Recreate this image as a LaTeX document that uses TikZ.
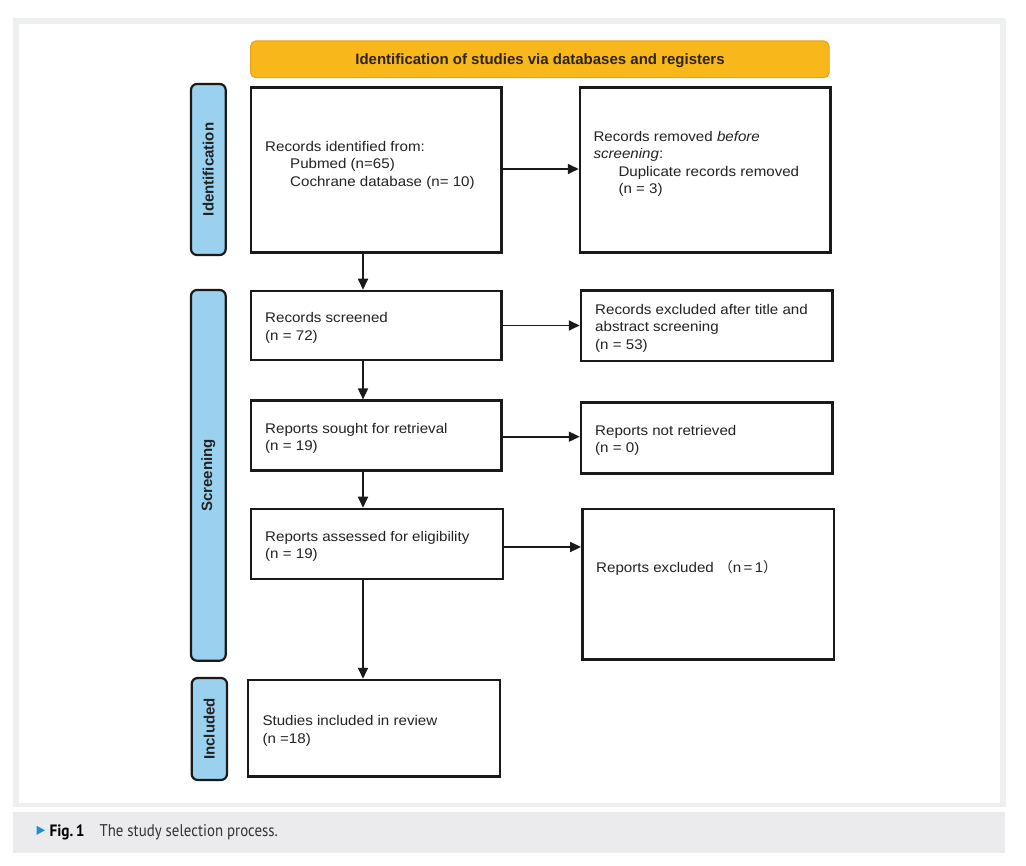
\documentclass[tikz,border=0pt]{standalone}
\usepackage{fontspec}
\setmainfont{Liberation Sans}
\newfontfamily\bodyf[FakeStretch=1.08]{Liberation Sans}
\newfontfamily\cjkf{Noto Sans CJK SC}
\newfontfamily\capf{PT Sans}
\usetikzlibrary{fit,arrows.meta,calc}
\definecolor{boxc}{HTML}{1A1A1A}
\definecolor{txtc}{HTML}{222222}
\definecolor{bluec}{HTML}{9AD1EF}
\definecolor{orangec}{HTML}{F8B71A}
\definecolor{orangeb}{HTML}{E5A21E}
\definecolor{hdrtxt}{HTML}{2D2416}
\definecolor{panelb}{HTML}{EEF0EF}
\definecolor{capband}{HTML}{EBEBED}
\definecolor{capblue}{HTML}{1E8FD2}
\definecolor{captxt}{HTML}{333333}
\newcommand{\fl}{\rule{0pt}{11.5pt}}
\newcommand{\ind}{\hspace*{25pt}}
\begin{document}
\begin{tikzpicture}[x=1pt,y=-1pt,
  flowbox/.style={draw=boxc, line width=2.5pt, inner sep=0pt},
  phase/.style={draw=boxc, line width=2.2pt, fill=bluec, rounded corners=6pt, inner sep=0pt},
  phasetext/.style={rotate=90, font=\fontsize{15}{18}\selectfont\bfseries, text=txtc, inner sep=0pt},
  boxtext/.style={anchor=north west, inner sep=0pt, align=left, text=txtc, font=\bodyf\fontsize{14}{17.5}\selectfont},
  arr/.style={draw=boxc, line width=1.7pt, -{Triangle[length=11pt,width=10pt]}},
]
\useasboundingbox (0,0) rectangle (1026,866);
\fill[white] (0,0) rectangle (1026,866);
% panel and caption band
\fill[panelb] (13.3,18) rectangle (1005.7,806.7);
\fill[white] (19.3,24) rectangle (1000,802.7);
\fill[capband] (13.3,811.7) rectangle (1005,852.7);

% header
\node[draw=orangeb, line width=1pt, fill=orangec, rounded corners=5pt, inner sep=0pt,
      fit={(250.7,41) (829,77.7)}] (H) {};
\node[anchor=base, inner sep=0pt, text=hdrtxt, font=\fontsize{15}{18}\selectfont\bfseries] (Htext) at (540,65)
  {Identification of studies via databases and registers};

% phase labels
\node[phase, fit={(191,84) (225.7,255)}] (L1) {};
\node[phasetext] (L1t) at (L1.center) {Identification};
\node[phase, fit={(191,290) (225.7,660.7)}] (L2) {};
\node[phasetext] (L2t) at (L2.center) {Screening};
\node[phase, fit={(191.7,678) (227,780)}] (L3) {};
\node[phasetext] (L3t) at (L3.center) {Included};

% boxes
\node[flowbox, fit={(251,87.3) (501.5,252.7)}] (B1) {};
\node[flowbox, fit={(580,87.3) (830.5,252.3)}] (R1) {};
\node[flowbox, fit={(251,291) (501.5,360)}] (B2) {};
\node[flowbox, fit={(581,290.7) (832.5,361)}] (R2) {};
\node[flowbox, fit={(251,400.7) (501.5,470.7)}] (B3) {};
\node[flowbox, fit={(581,402.7) (832.5,473.3)}] (R3) {};
\node[flowbox, fit={(251,509) (503,579)}] (B4) {};
\node[flowbox, fit={(582.3,509) (834,659.3)}] (R4) {};
\node[flowbox, fit={(248,680) (500,776.7)}] (B5) {};

% texts
\node[boxtext] (T1) at (265,139.5) {\fl Records identified from:\\ \ind Pubmed (n=65)\\ \ind Cochrane database (n= 10)};
\node[boxtext] (TR1) at (593.3,129.5) {\fl Records removed \textit{before}\\ \textit{screening}:\\ \ind Duplicate records removed\\ \ind (n = 3)};
\node[boxtext] (T2) at (265,311.2) {\fl Records screened\\ (n = 72)};
\node[boxtext] (TR2) at (595,302.8) {\fl Records excluded after title and\\ abstract screening\\ (n = 53)};
\node[boxtext] (T3) at (265,421.5) {\fl Reports sought for retrieval\\ (n = 19)};
\node[boxtext] (TR3) at (595,423.5) {\fl Reports not retrieved\\ (n = 0)};
\node[boxtext] (T4) at (265,529.5) {\fl Reports assessed for eligibility\\ (n = 19)};
\node[boxtext] (TR4) at (596,560.2) {\fl Reports excluded\hspace{5pt}{\cjkf （}n\,=\,1{\cjkf ）}};
\node[boxtext] (T5) at (262.3,714.2) {\fl Studies included in review\\ (n =18)};

% connectors
\coordinate (vx) at (363,0);
\draw[arr] (B1.south -| vx) -- (B2.north -| vx);
\draw[arr] (B2.south -| vx) -- (B3.north -| vx);
\draw[arr] (B3.south -| vx) -- (B4.north -| vx);
\draw[arr] (B4.south -| vx) -- (B5.north -| vx);
\draw[arr] ([yshift=1pt]B1.east) -- ([yshift=1pt]B1.east -| R1.west);
\draw[arr] (B2.east) -- (B2.east -| R2.west);
\draw[arr] ([yshift=-1pt]B3.east) -- ([yshift=-1pt]B3.east -| R3.west);
\draw[arr] ([yshift=-3pt]B4.east) -- ([yshift=-3pt]B4.east -| R4.west);

% caption
\fill[capblue] (36.7,825.8) -- (45,830.3) -- (36.7,834.8) -- cycle;
\node[anchor=base west, inner sep=0pt, text=black] (capfig) at (49.3,836.7)
  {\resizebox{35pt}{11.7pt}{\capf\bfseries Fig.\,1}};
\node[anchor=base west, inner sep=0pt, text=captxt] (captext) at (99.3,836.7)
  {\resizebox{178.4pt}{12pt}{\capf The study selection process.}};
\end{tikzpicture}
\end{document}
